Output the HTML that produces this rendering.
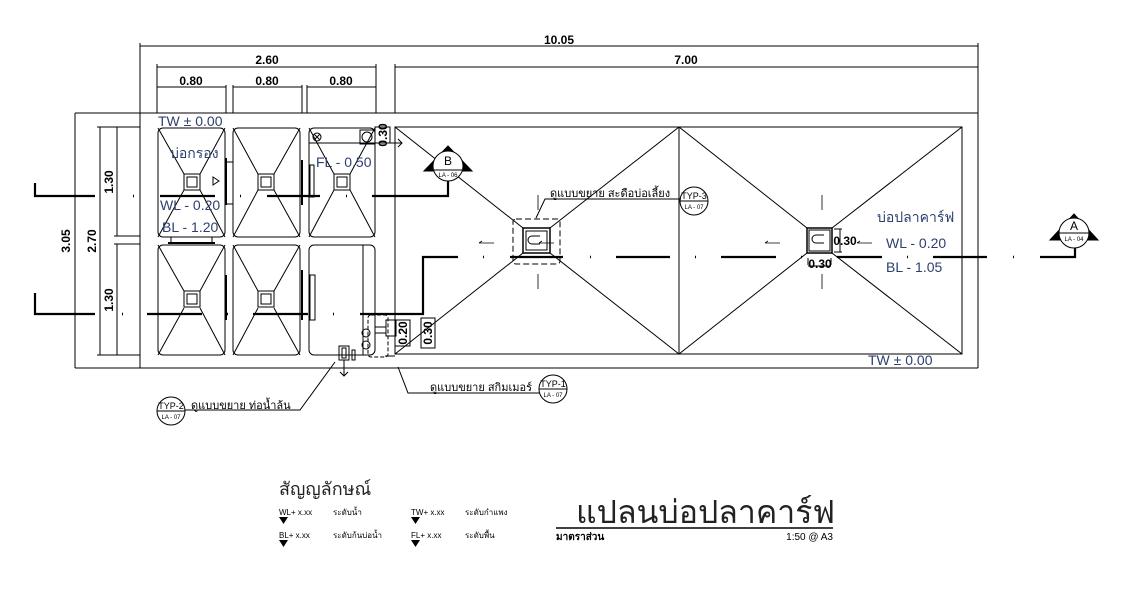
<!DOCTYPE html>
<html><head><meta charset="utf-8"><style>
html,body{margin:0;padding:0;background:#fff;}
svg{display:block}
text{font-family:"Liberation Sans","Noto Sans CJK SC",sans-serif;}
.b{fill:#2d3f6e}
</style></head><body>
<svg width="1122" height="601" viewBox="0 0 1122 601" xmlns="http://www.w3.org/2000/svg">
<g stroke="#000" stroke-width="1" fill="none">
<line x1="140" y1="46" x2="978" y2="46"/>
<line x1="140" y1="43" x2="140" y2="368"/>
<line x1="978" y1="43" x2="978" y2="368"/>
<line x1="157" y1="67" x2="376" y2="67"/>
<line x1="395" y1="67" x2="978" y2="67"/>
<line x1="157" y1="64" x2="157" y2="113"/>
<line x1="376" y1="64" x2="376" y2="113"/>
<line x1="395" y1="64" x2="395" y2="113"/>
<line x1="157" y1="87" x2="226" y2="87"/>
<line x1="233" y1="87" x2="302" y2="87"/>
<line x1="307" y1="87" x2="376" y2="87"/>
<line x1="226" y1="85" x2="226" y2="113"/><line x1="233" y1="85" x2="233" y2="113"/>
<line x1="302" y1="85" x2="302" y2="113"/><line x1="307" y1="85" x2="307" y2="113"/>
<line x1="75" y1="113" x2="978" y2="113"/>
<line x1="75" y1="368" x2="978" y2="368"/>
<line x1="75" y1="113" x2="75" y2="368"/>
<line x1="100" y1="127" x2="100" y2="355"/>
<line x1="117" y1="127" x2="117" y2="236"/>
<line x1="117" y1="244" x2="117" y2="355"/>
<line x1="97" y1="127" x2="140" y2="127"/>
<line x1="97" y1="355" x2="140" y2="355"/>
<line x1="114" y1="236" x2="140" y2="236"/>
<line x1="114" y1="244" x2="140" y2="244"/>
<rect x="158" y="128" width="67" height="109" rx="5"/>
<rect x="233" y="128" width="67" height="109" rx="5"/>
<rect x="309" y="128" width="66" height="109" rx="5"/>
<rect x="158" y="245" width="67" height="110" rx="5"/>
<rect x="233" y="245" width="67" height="110" rx="5"/>
<rect x="309" y="245" width="66" height="110" rx="5"/>
<path d="M158 128L184 174M225 128L200 174M158 237L184 190M225 237L200 190"/>
<path d="M233 128L258 174M300 128L274 174M233 237L258 190M300 237L274 190"/>
<path d="M309 128L334 174M375 128L350 174M309 237L334 190M375 237L350 190"/>
<path d="M158 245L184 291M225 245L200 291M158 355L184 308M225 355L200 308"/>
<path d="M233 245L258 291M300 245L274 291M233 355L258 308M300 355L274 308"/>
<rect x="184" y="174" width="16" height="16"/><rect x="187" y="177" width="10" height="10"/>
<rect x="258" y="174" width="16" height="16"/><rect x="261" y="177" width="10" height="10"/>
<rect x="334" y="174" width="16" height="16"/><rect x="337" y="177" width="10" height="10"/>
<rect x="184" y="291" width="16" height="16"/><rect x="187" y="294" width="10" height="10"/>
<rect x="258" y="291" width="16" height="16"/><rect x="261" y="294" width="10" height="10"/>
<line x1="309" y1="143" x2="376" y2="143"/>
<circle cx="317" cy="137" r="4"/><path d="M314 134l6 6M320 134l-6 6"/>
<rect x="360" y="130" width="15" height="14"/><circle cx="367" cy="137" r="5"/>
<rect x="375" y="127" width="15" height="16"/>
<path d="M390 143L402 143M398 139l4 4-4 4"/>
<line x1="363" y1="245" x2="363" y2="355"/>
<path d="M339 346h10v14h-10z M342 348h4v10h-4z M352 350h3v10h-3z"/>
<path d="M344 360v16M340 372l4 4 4-4"/>
<circle cx="366" cy="333" r="4"/><circle cx="366" cy="345" r="4"/>
<rect x="368" y="315" width="20" height="42" rx="3" stroke-dasharray="4 2"/>
<rect x="386" y="320" width="10" height="16"/>
<rect x="395" y="320" width="15" height="26"/>
<rect x="421" y="318" width="14" height="30"/>
<path d="M375 327h11v6h-11z"/>
<line x1="385" y1="356" x2="395" y2="356"/>
<g stroke-width="2"><line x1="226" y1="158" x2="226" y2="205"/><line x1="302" y1="160" x2="302" y2="205"/>
<line x1="226" y1="275" x2="226" y2="320"/><line x1="302" y1="270" x2="302" y2="320"/>
<line x1="168" y1="243" x2="215" y2="243"/></g>
<rect x="310" y="165" width="4" height="32"/>
<rect x="310" y="275" width="5" height="45"/>
<line x1="226" y1="162" x2="233" y2="162"/><line x1="226" y1="204" x2="233" y2="204"/>
<line x1="171" y1="237" x2="171" y2="244"/><line x1="212" y1="237" x2="212" y2="244"/>
<rect x="395" y="127" width="567" height="227"/>
<line x1="679" y1="127" x2="679" y2="354"/>
<path d="M395 127L523 228M679 127L550 228M395 354L523 253M679 354L550 253"/>
<path d="M679 127L807 228M962 127L832 228M679 354L807 253M962 354L832 253"/>
<rect x="523" y="228" width="27" height="25" stroke-width="1.5"/><rect x="526" y="231" width="21" height="19"/>
<rect x="513" y="219" width="47" height="45" rx="3" stroke-dasharray="6 3"/>
<path d="M540 236h-8a4 4 0 0 0 0 8h8"/>
<rect x="807" y="228" width="25" height="25" stroke-width="1.5"/><rect x="809" y="230" width="21" height="21"/>
<path d="M824 235h-8a4 4 0 0 0 0 8h8"/>
<path d="M834 229h8M834 252h8M840 229v23M808 258v7M831 258v7M808 266h23"/>
<g stroke-width="2.2">
<path d="M35 183v13h60M160 196h55M267 196h53M372 196h76v-17"/>
<path d="M35 293v21h60M147 314h55M253 314h55M360 314h63v-57h35"/>
<path d="M510 257h53M616 257h54M721 257h55M837 257h45M933 257h54M1040 257h35v-10"/>
</g>
<g stroke-width="2.5"><path d="M133 196h1M240 196h1M346 196h1M122 314h1M227 314h1M333 314h1M483 257h1M590 257h1M695 257h1M801 257h1M907 257h1M1013 257h1"/></g>
<g stroke-width="0.8"><path d="M479 243h15M479 243l3-2M539 243h15M539 243l3-2M765 243h15M765 243l3-2M857 243h15M857 243l3-2"/>
<path d="M538 195v15M538 274v15M822 195v15M822 274v15"/></g>
<path d="M424 171L448 146L472 171Z" fill="#000"/>
<circle cx="448" cy="166" r="15" fill="#fff"/><line x1="433" y1="170" x2="463" y2="170"/>
<path d="M1050 240L1074 214L1098 240Z" fill="#000"/>
<circle cx="1074" cy="233" r="15" fill="#fff"/><line x1="1059" y1="233" x2="1089" y2="233"/>
<path d="M536 218L545 199H681"/><circle cx="694" cy="201" r="14"/><line x1="680" y1="201" x2="708" y2="201"/>
<path d="M398 367L408 393H540"/><circle cx="553" cy="389" r="14"/><line x1="539" y1="389" x2="567" y2="389"/>
<path d="M335 362L300 410H185"/><circle cx="171" cy="411" r="14"/><line x1="157" y1="411" x2="185" y2="411"/>
<line x1="556" y1="528" x2="833" y2="528" stroke-width="1.5"/>
</g>
<g fill="#000"><path d="M279 517h9l-4.5 7z"/><path d="M411 517h9l-4.5 7z"/><path d="M279 540h9l-4.5 7z"/><path d="M411 540h9l-4.5 7z"/>
<path d="M213 177l6 4-6 4z" fill="none" stroke="#000"/></g>
<g font-size="12" font-weight="bold" text-anchor="middle">
<text x="559" y="44">10.05</text><text x="267" y="64">2.60</text><text x="686" y="64">7.00</text>
<text x="191" y="85">0.80</text><text x="267" y="85">0.80</text><text x="341" y="85">0.80</text>
<text transform="translate(70,241) rotate(-90)">3.05</text>
<text transform="translate(96,241) rotate(-90)">2.70</text>
<text transform="translate(113,182) rotate(-90)">1.30</text>
<text transform="translate(113,300) rotate(-90)">1.30</text>
<text transform="translate(387,135) rotate(-90)">0.30</text>
<text transform="translate(407,333) rotate(-90)">0.20</text>
<text transform="translate(432,333) rotate(-90)">0.30</text>
<text x="845" y="245">0.30</text><text x="820" y="268">0.30</text>
</g>
<g font-size="14" class="b">
<text x="158" y="126">TW  ± 0.00</text>
<text x="170" y="158">บ่อกรอง</text>
<text x="160" y="210">WL - 0.20</text>
<text x="162" y="232">BL - 1.20</text>
<text x="316" y="167">FL - 0.50</text>
<text x="877" y="222">บ่อปลาคาร์ฟ</text>
<text x="886" y="248">WL - 0.20</text>
<text x="886" y="272">BL - 1.05</text>
<text x="868" y="365">TW  ± 0.00</text>
</g>
<g font-size="12" text-anchor="middle"><text x="448" y="165">B</text><text x="1074" y="230">A</text></g>
<g font-size="6" text-anchor="middle"><text x="448" y="177">LA - 06</text><text x="1074" y="241">LA - 04</text>
<text x="694" y="209">LA - 07</text><text x="553" y="397">LA - 07</text><text x="171" y="419">LA - 07</text></g>
<g font-size="9" text-anchor="middle"><text x="694" y="199">TYP-3</text><text x="553" y="387">TYP-1</text><text x="171" y="409">TYP-2</text></g>
<g font-size="11">
<text x="550" y="197">ดูแบบขยาย สะดือบ่อเลี้ยง</text>
<text x="430" y="391">ดูแบบขยาย สกิมเมอร์</text>
<text x="191" y="409">ดูแบบขยาย ท่อน้ำล้น</text>
</g>
<text x="279" y="495" font-size="18" fill="#222">สัญญลักษณ์</text>
<g font-size="8">
<text x="279" y="515">WL+ x.xx</text><text x="333" y="515">ระดับน้ำ</text>
<text x="411" y="515">TW+ x.xx</text><text x="465" y="515">ระดับกำแพง</text>
<text x="279" y="538">BL+ x.xx</text><text x="333" y="538">ระดับก้นบ่อน้ำ</text>
<text x="411" y="538">FL+ x.xx</text><text x="465" y="538">ระดับพื้น</text>
</g>
<text x="576" y="523" font-size="32" fill="#222">แปลนบ่อปลาคาร์ฟ</text>
<text x="556" y="540" font-size="10" font-weight="bold">มาตราส่วน</text>
<text x="833" y="540" font-size="10" text-anchor="end">1:50  @  A3</text>
</svg>
</body></html>
